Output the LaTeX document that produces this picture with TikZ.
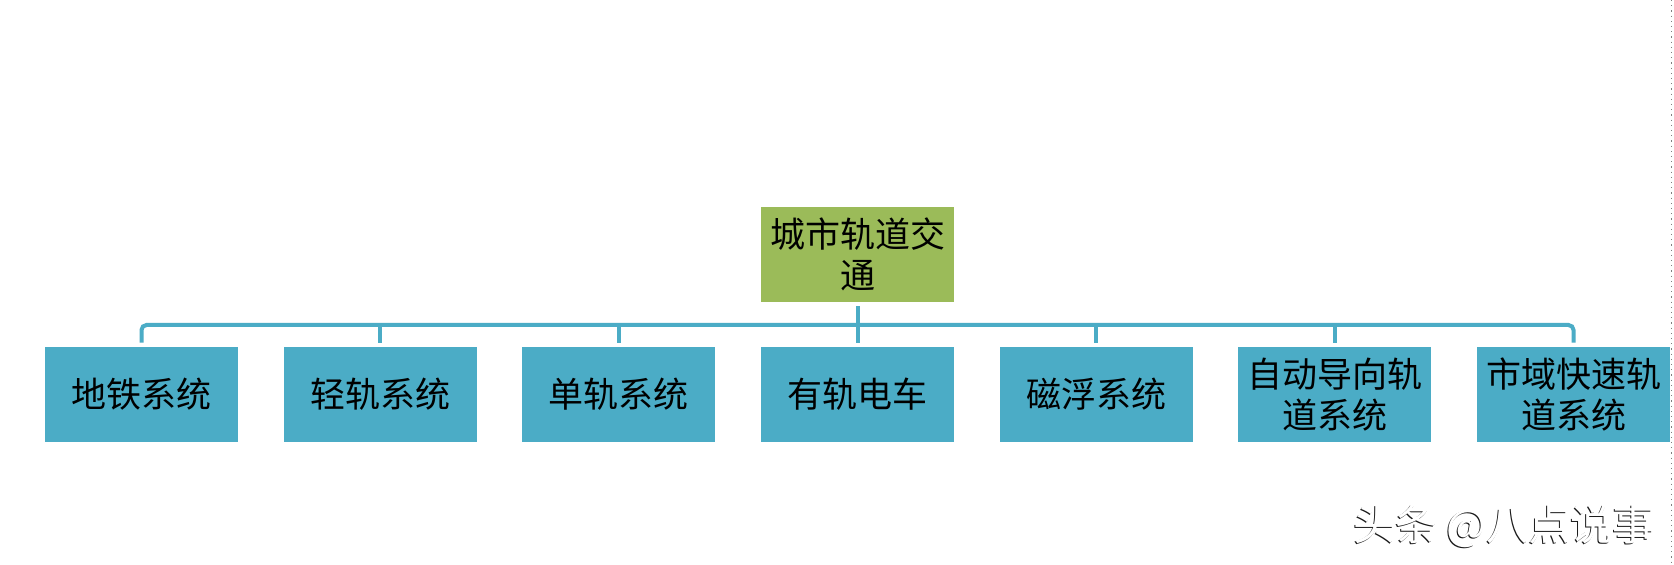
\documentclass[tikz,border=0pt]{standalone}
\usepackage{fontspec}
\newfontfamily\cjk{Noto Sans CJK SC}
\definecolor{boxblue}{HTML}{4BACC6}
\definecolor{boxgreen}{HTML}{9BBB59}
\definecolor{lineblue}{HTML}{4BACC6}
\begin{document}
\begin{tikzpicture}[x=0.5pt,y=-0.5pt,
  basebox/.style={minimum width=96.5pt, minimum height=47.5pt, inner sep=0pt,
    align=center, text width=96pt, text=black,
    font=\cjk\fontsize{17.5}{20.5}\selectfont},
  childbox/.style={basebox, fill=boxblue},
  rootbox/.style={basebox, fill=boxgreen},
  conn/.style={draw=lineblue, line width=2pt},
  wmark/.style={font=\cjk\fontsize{21}{24}\selectfont}]
\useasboundingbox (0,0) rectangle (1674,565);
\fill[white] (0,0) rectangle (1674,565);

\node[rootbox] (root) at (857.5,254.5) {城市轨道交\\通};

\node[childbox] (n1) at (141.5,394.5) {地铁系统};
\node[childbox] (n2) at (380.2,394.5) {轻轨系统};
\node[childbox] (n3) at (618.8,394.5) {单轨系统};
\node[childbox] (n4) at (857.5,394.5) {有轨电车};
\node[childbox] (n5) at (1096.2,394.5) {磁浮系统};
\node[childbox] (n6) at (1334.8,394.5) {自动导向轨\\道系统};
\node[childbox] (n7) at (1573.5,394.5) {市域快速轨\\道系统};

\coordinate (bar) at (857.5,325);

\draw[conn] ([yshift=-2pt]root.south) -- ([yshift=2pt]n4.north);
\draw[conn, rounded corners=2.5pt] ([yshift=2pt]n1.north) |- (bar) -| ([yshift=2pt]n7.north);
\foreach \n in {n2,n3,n5,n6}
  \draw[conn] ([yshift=2pt]\n.north) -- (\n.north |- bar);

\node[wmark, text=black!90] (wm) at (1503,527) {头条 @八点说事};
\node[wmark, text=white] (wmhi) at ([xshift=0.4pt,yshift=0.35pt]wm.center) {头条 @八点说事};

\draw[gray, dotted, line width=0.6pt] (1671.5,0) -- (1671.5,565);
\end{tikzpicture}
\end{document}
